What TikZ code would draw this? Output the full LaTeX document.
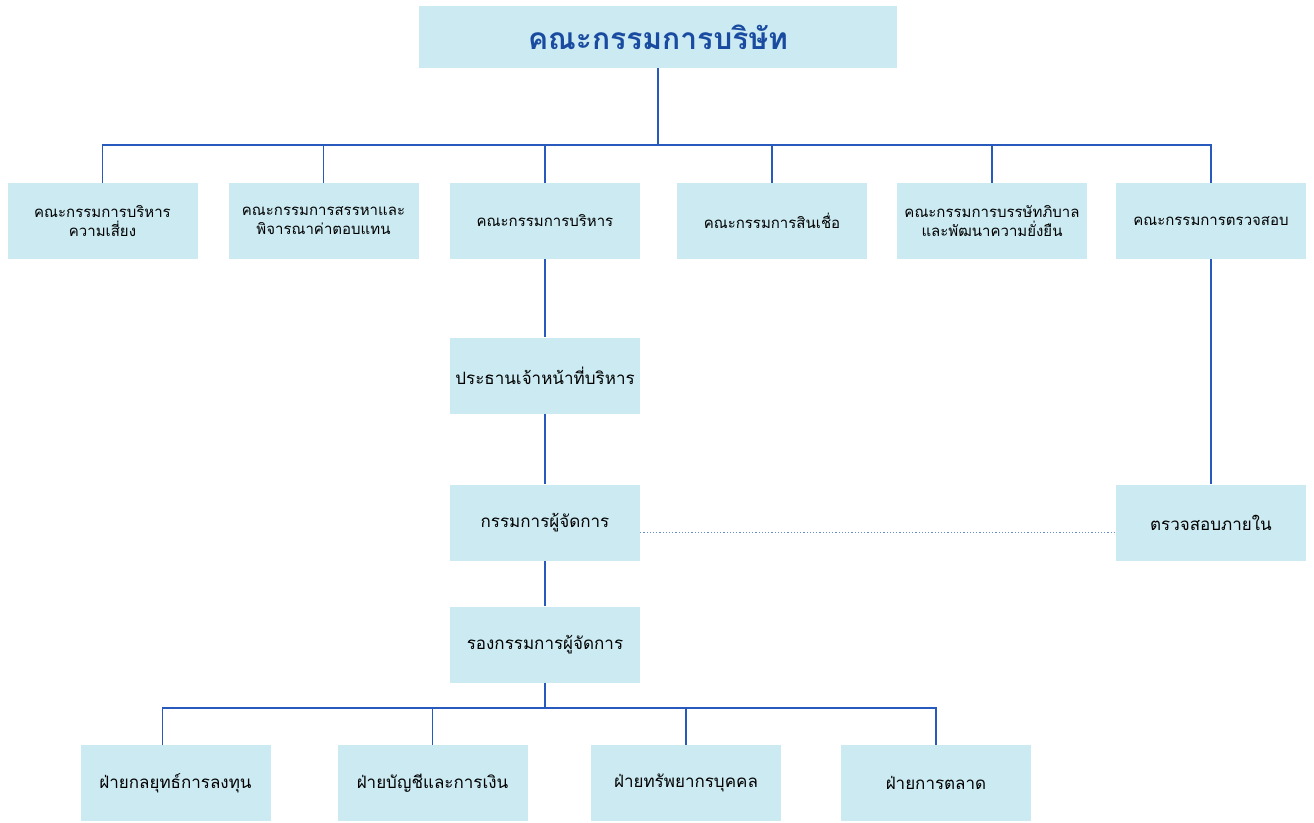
\documentclass[tikz,border=0pt]{standalone}
\usepackage{fontspec}
\newfontfamily\thaifont[Script=Thai]{Loma}
\usetikzlibrary{positioning}
\definecolor{boxfill}{RGB}{203,234,242}
\definecolor{linkblue}{RGB}{40,90,190}
\definecolor{titleblue}{RGB}{25,75,160}
\tikzset{%
unit/.style={fill=boxfill,minimum width=190pt,minimum height=76pt,inner sep=2pt,align=center,font=\thaifont\fontsize{15}{19}\selectfont},
bigunit/.style={unit,font=\thaifont\fontsize{17}{21}\selectfont},
board/.style={fill=boxfill,minimum width=478pt,minimum height=62pt,font=\thaifont\bfseries\fontsize{30}{34}\selectfont,text=titleblue},
link/.style={draw=linkblue,line width=1.6pt},
dotlink/.style={draw=linkblue!70,line width=1.2pt,dotted}
}
\begin{document}
\begin{tikzpicture}[x=1pt,y=-1pt]
  \useasboundingbox (0,0) rectangle (1314,822);

  \node[board] (bod) at (658,37) {คณะกรรมการบริษัท};

  % committees
  \node[unit] (risk) at (102.5,221) {คณะกรรมการบริหาร\\ความเสี่ยง};
  \node[unit] (nom)  at (323.5,221) {คณะกรรมการสรรหาและ\\พิจารณาค่าตอบแทน};
  \node[unit] (exe)  at (545,221) {คณะกรรมการบริหาร};
  \node[unit] (cred) at (772,221) {คณะกรรมการสินเชื่อ};
  \node[unit] (gov)  at (992,221) {คณะกรรมการบรรษัทภิบาล\\และพัฒนาความยั่งยืน};
  \node[unit] (aud)  at (1211,221) {คณะกรรมการตรวจสอบ};

  % management line
  \node[bigunit] (ceo) at (545,375.5) {ประธานเจ้าหน้าที่บริหาร};
  \node[bigunit] (md)  at (545,522.5) {กรรมการผู้จัดการ};
  \node[bigunit] (ia)  at (1211,522.5) {ตรวจสอบภายใน};
  \node[bigunit] (dmd) at (545,644.5) {รองกรรมการผู้จัดการ};

  % departments
  \node[bigunit] (inv) at (175.5,783) {ฝ่ายกลยุทธ์การลงทุน};
  \node[bigunit] (acc) at (432.5,783) {ฝ่ายบัญชีและการเงิน};
  \node[bigunit] (hr)  at (686,783) {ฝ่ายทรัพยากรบุคคล};
  \node[bigunit] (mkt) at (936,783) {ฝ่ายการตลาด};

  \coordinate (topbus) at ([yshift=-77pt]bod.south);
  \coordinate (lowbus) at ([yshift=-25pt]dmd.south);

  \draw[link] (bod.south) -- (topbus);
  \foreach \n in {risk,nom,exe,cred,gov,aud}
    \draw[link] (topbus) -| (\n.north);

  \draw[link] (exe.south) -- (ceo.north);
  \draw[link] (ceo.south) -- (md.north);
  \draw[link] (md.south) -- (dmd.north);
  \draw[link] (aud.south) -- (ia.north);
  \draw[dotlink] ([yshift=-10pt]md.east) -- ([yshift=-10pt]ia.west);

  \draw[link] (dmd.south) -- (lowbus);
  \draw[link] (lowbus) -| ([xshift=-13pt]inv.north);
  \foreach \n in {acc,hr,mkt}
    \draw[link] (lowbus) -| (\n.north);
\end{tikzpicture}
\end{document}
